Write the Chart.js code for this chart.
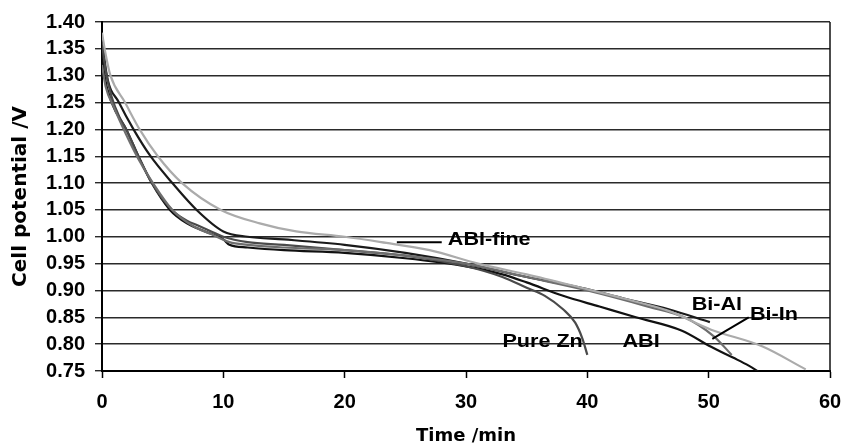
<!DOCTYPE html>
<html>
<head>
<meta charset="utf-8">
<script src="https://cdn.jsdelivr.net/npm/chart.js@4/dist/chart.umd.min.js"></script>
<style>
  html, body { margin: 0; padding: 0; background: #fff; }
  #wrap { width: 844px; height: 447px; }
</style>
</head>
<body>
<div id="wrap"><canvas id="discharge-chart" width="844" height="447"></canvas></div>
<script>
const pureZnTime = [0, 0.3, 0.8, 1.5, 2, 3, 4, 5, 6, 7, 8, 9, 10, 12, 15, 20, 25, 30, 33, 35, 36.5, 38, 39, 39.6, 40];
const pureZnV = [1.36, 1.31, 1.26, 1.22, 1.2, 1.15, 1.105, 1.07, 1.045, 1.03, 1.02, 1.01, 1.0, 0.99, 0.985, 0.975, 0.965, 0.945, 0.925, 0.905, 0.89, 0.865, 0.84, 0.81, 0.78];

const abiTime = [0, 0.2, 0.8, 2, 3, 4.1, 5.6, 7, 8.5, 10, 10.5, 12, 15, 20, 25, 30, 33, 35, 38, 41, 44, 47.8, 50.2, 52, 53.3, 54.3];
const abiV = [1.34, 1.3, 1.25, 1.2, 1.15, 1.1, 1.05, 1.025, 1.01, 0.995, 0.985, 0.98, 0.975, 0.97, 0.96, 0.945, 0.93, 0.915, 0.89, 0.87, 0.85, 0.825, 0.795, 0.775, 0.76, 0.746];

const biInTime = [0, 0.3, 1, 2, 3, 4.2, 5.8, 7.5, 9, 10.5, 12, 15, 20, 25, 30, 35, 40, 45, 48, 50.4, 51.9];
const biInV = [1.32, 1.28, 1.24, 1.19, 1.145, 1.1, 1.05, 1.02, 1.005, 0.99, 0.985, 0.98, 0.975, 0.965, 0.95, 0.925, 0.9, 0.87, 0.85, 0.815, 0.78];

const biAlTime = [0, 0.4, 1.4, 2.6, 4, 5.8, 7.8, 10, 12, 15, 20, 25, 30, 32, 35, 39.5, 43, 46.7, 50.1];
const biAlV = [1.37, 1.3, 1.25, 1.2, 1.15, 1.1, 1.05, 1.01, 1.0, 0.995, 0.985, 0.97, 0.95, 0.94, 0.925, 0.905, 0.885, 0.865, 0.841];

const abiFineTime = [0, 0.3, 0.7, 1.9, 3.1, 4.6, 6.6, 9.8, 13, 16, 20, 23, 27, 31, 35, 39.5, 43, 46.7, 50.2, 54.4, 58];
const abiFineV = [1.38, 1.34, 1.3, 1.25, 1.2, 1.15, 1.1, 1.05, 1.025, 1.01, 1.0, 0.99, 0.975, 0.95, 0.93, 0.905, 0.885, 0.862, 0.827, 0.796, 0.753];

const xTicks = [0, 10, 20, 30, 40, 50, 60];
const yTicks = [0.75, 0.80, 0.85, 0.90, 0.95, 1.00, 1.05, 1.10, 1.15, 1.20, 1.25, 1.30, 1.35, 1.40];

// curve labels: text, x, y, and optional pointer line
const curveLabels = [
  { text: 'ABI-fine', x: 28.5, y: 0.994, line: [24.3, 0.99, 28.0, 0.99] },
  { text: 'Pure Zn', x: 33.0, y: 0.804 },
  { text: 'ABI', x: 42.9, y: 0.804 },
  { text: 'Bi-Al', x: 48.6, y: 0.873 },
  { text: 'Bi-In', x: 53.4, y: 0.854, line: [53.3, 0.85, 50.3, 0.81] }
];

function pts(xs, ys) {
  return xs.map((x, i) => ({ x: x, y: ys[i] }));
}

const titleFont = { family: '"DejaVu Sans", sans-serif', size: 18, weight: 'bold' };
const tickFont = { family: '"Liberation Sans", Arial, sans-serif', size: 20, weight: 'bold' };

const labelPlugin = {
  id: 'curveLabels',
  afterDatasetsDraw(chart) {
    const ctx = chart.ctx;
    const xs = chart.scales.x, ys = chart.scales.y;
    const area = chart.chartArea;
    ctx.save();
    // right frame line
    ctx.strokeStyle = '#111';
    ctx.lineWidth = 1.5;
    ctx.beginPath();
    ctx.moveTo(area.right, area.top);
    ctx.lineTo(area.right, area.bottom);
    ctx.stroke();

    ctx.fillStyle = '#000';
    ctx.textBaseline = 'middle';
    ctx.textAlign = 'left';
    curveLabels.forEach(l => {
      if (l.line) {
        ctx.strokeStyle = '#000';
        ctx.lineWidth = 2;
        ctx.beginPath();
        ctx.moveTo(xs.getPixelForValue(l.line[0]), ys.getPixelForValue(l.line[1]));
        ctx.lineTo(xs.getPixelForValue(l.line[2]), ys.getPixelForValue(l.line[3]));
        ctx.stroke();
      }
      // the scanned labels are a bit wider than plain Arial bold
      ctx.save();
      ctx.translate(xs.getPixelForValue(l.x), ys.getPixelForValue(l.y));
      ctx.scale(1.2, 1);
      ctx.font = 'bold 18px "Liberation Sans", Arial, sans-serif';
      ctx.fillText(l.text, 0, 0);
      ctx.restore();
    });
    ctx.restore();
  }
};

new Chart(document.getElementById('discharge-chart'), {
  type: 'scatter',
  data: {
    datasets: [
      { label: 'ABI-fine', data: pts(abiFineTime, abiFineV), borderColor: '#ababab' },
      { label: 'Bi-In', data: pts(biInTime, biInV), borderColor: '#6e6e6e' },
      { label: 'Pure Zn', data: pts(pureZnTime, pureZnV), borderColor: '#4a4a4a' },
      { label: 'Bi-Al', data: pts(biAlTime, biAlV), borderColor: '#1a1a1a' },
      { label: 'ABI', data: pts(abiTime, abiV), borderColor: '#111' }
    ]
  },
  options: {
    responsive: false,
    animation: false,
    showLine: true,
    layout: { padding: { top: 22, right: 14, left: 0, bottom: 0 } },
    elements: {
      point: { radius: 0 },
      line: { borderWidth: 2.2, cubicInterpolationMode: 'monotone', fill: false }
    },
    plugins: {
      legend: { display: false },
      tooltip: { enabled: false }
    },
    scales: {
      x: {
        type: 'linear',
        min: 0,
        max: 60,
        afterBuildTicks: axis => { axis.ticks = xTicks.map(v => ({ value: v })); },
        afterFit: axis => { axis.height = 76; axis.paddingLeft = 0; axis.paddingRight = 0; },
        grid: { drawOnChartArea: false, drawTicks: true, tickLength: 7, tickColor: '#000', tickWidth: 1.5 },
        border: { color: '#000', width: 2 },
        ticks: { color: '#000', font: tickFont, padding: 12, maxRotation: 0, autoSkip: false },
        title: { display: true, text: 'Time /min', color: '#000', font: titleFont, padding: { top: 0, bottom: 0 } }
      },
      y: {
        min: 0.75,
        max: 1.40,
        afterBuildTicks: axis => { axis.ticks = yTicks.map(v => ({ value: v })); },
        afterFit: axis => { axis.width = 102; axis.paddingTop = 0; axis.paddingBottom = 0; },
        grid: { color: '#2a2a2a', lineWidth: 1.4, drawTicks: true, tickLength: 7, tickColor: '#2a2a2a' },
        border: { color: '#000', width: 2 },
        ticks: { color: '#000', font: tickFont, padding: 10, autoSkip: false, callback: v => v.toFixed(2) },
        title: { display: true, text: 'Cell potential /V', color: '#000', font: { ...titleFont, size: 20 }, padding: { top: 9, bottom: 0 } }
      }
    }
  },
  plugins: [labelPlugin]
});
</script>
</body>
</html>
